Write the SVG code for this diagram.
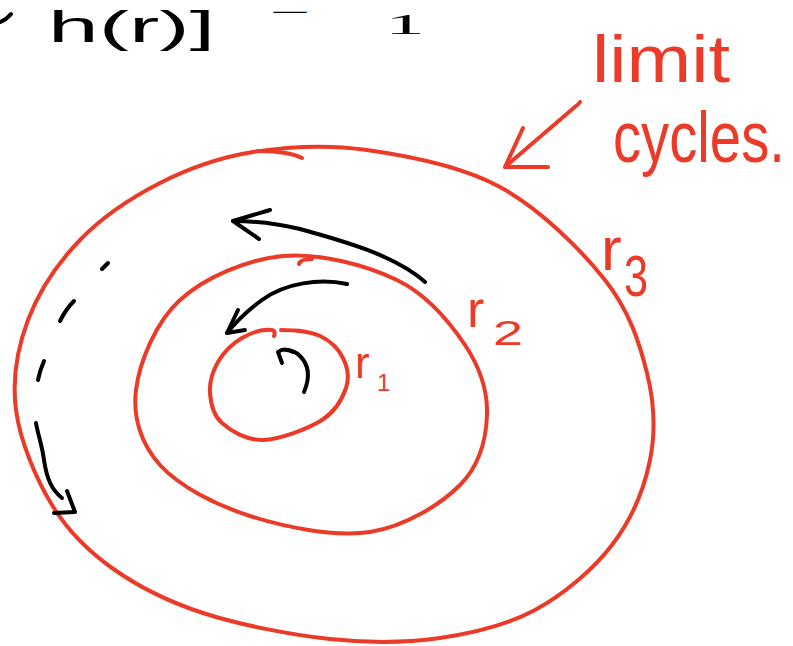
<svg xmlns="http://www.w3.org/2000/svg" width="793" height="646" viewBox="0 0 793 646">
<style>
.red{fill:none;stroke:#ec3a28;stroke-width:4;stroke-linecap:round;stroke-linejoin:round}
.blk{fill:none;stroke:#000;stroke-width:4;stroke-linecap:round;stroke-linejoin:round}
.rt{fill:#ec3a28;font-family:"Liberation Sans",Arial,sans-serif}
.bt{fill:#000;font-family:"Liberation Sans",Arial,sans-serif}
</style>
<rect width="793" height="646" fill="#fff"/>
<g id="formula">
<path class="blk" d="M0 22 Q6 20 11 14"/>
<text class="bt" x="48" y="42" font-size="44" textLength="167" lengthAdjust="spacingAndGlyphs">h(r)]</text>
<text class="bt" x="270" y="19" font-size="20" textLength="40" lengthAdjust="spacingAndGlyphs">−</text>
<text class="bt" x="385" y="34" font-size="30" textLength="40" lengthAdjust="spacingAndGlyphs" style="font-family:'Liberation Serif',serif">1</text>
</g>
<g id="cycle-r3">
<path class="red" d="M253 152 C287.5 146.5 325.8 144.2 367 150 C408.2 155.8 460.3 165.3 500 187 C539.7 208.7 580.5 249 605 280 C629.5 311 639.5 343 647 373 C654.5 403 655.8 431.3 650 460 C644.2 488.7 631.2 520 612 545 C592.8 570 563.7 594.5 535 610 C506.3 625.5 474.2 633.2 440 638 C405.8 642.8 369.5 643.2 330 639 C290.5 634.8 239.3 624.8 203 613 C166.7 601.2 137.2 586 112 568 C86.8 550 68 531.3 52 505 C36 478.7 20 440.8 16 410 C12 379.2 17.3 348.3 28 320 C38.7 291.7 58 262.8 80 240 C102 217.2 131.2 197.7 160 183 C188.8 168.3 218.5 157.5 253 152"/>
<path class="red" d="M258 151 C272 151 290 152 302 158"/>
<text class="rt" x="601" y="270" font-size="62">r</text>
<text class="rt" x="624" y="296" font-size="58" textLength="24" lengthAdjust="spacingAndGlyphs">3</text>
</g>
<g id="cycle-r2">
<path class="red" d="M283 256 C319.2 252.7 366.7 265.2 397 280 C427.3 294.8 450 322.5 465 345 C480 367.5 487.8 391.7 487 415 C486.2 438.3 479.5 465.5 460 485 C440.5 504.5 405 526.8 370 532 C335 537.2 285 527.2 250 516 C215 504.8 179 486 160 465 C141 444 132.7 417.5 136 390 C139.3 362.5 155.5 322.3 180 300 C204.5 277.7 246.8 259.3 283 256"/>
<path class="red" d="M299 264 Q300 259 312 259"/>
<text class="rt" x="467" y="327" font-size="52">r</text>
<text class="rt" x="493" y="345" font-size="35" textLength="30" lengthAdjust="spacingAndGlyphs">2</text>
</g>
<g id="cycle-r1">
<path class="red" d="M281 330 C295 330 309.7 331.3 320 336 C330.3 340.7 338.7 349.3 343 358 C347.3 366.7 349.5 377.7 346 388 C342.5 398.3 335.8 411.3 322 420 C308.2 428.7 279.7 439.5 263 440 C246.3 440.5 230.8 430.8 222 423 C213.2 415.2 210.7 403.2 210 393 C209.3 382.8 212.7 371.2 218 362 C223.3 352.8 233 343.3 242 338 C251 332.7 262 329 272 330 Q276 331 274 336"/>
<text class="rt" x="355" y="378" font-size="44">r</text>
<text class="rt" x="377" y="391" font-size="24">1</text>
</g>
<g id="label-limit-cycles">
<text class="rt" x="592" y="82" font-size="66" textLength="138" lengthAdjust="spacingAndGlyphs">limit</text>
<text class="rt" transform="translate(613,162) scale(0.97,1.25)" font-size="58">cycles.</text>
</g>
<g id="connectors">
<path class="red" d="M580 102 Q578 105 576 106 L505 167"/>
<path class="red" d="M523 128 L505 167 L548 167"/>
<path class="blk" d="M425 282 C395 255 340 240 300 229 C275 223 255 221 233 221"/>
<path class="blk" d="M270 210 L233 221 L259 239"/>
<path class="blk" d="M347 284 C320 278 285 283 262 300 C248 310 236 322 227 333"/>
<path class="blk" d="M238 310 L227 333 L245 330"/>
<path class="blk" d="M304 392 C310 378 309 365 300 356 C295 351 290 350 286 350"/>
<path class="blk" d="M282 363 L278 352 Q284 347 293 352"/>
<path class="blk" d="M102 269 L108 263"/>
<path class="blk" d="M60 321 Q66 309 74 301"/>
<path class="blk" d="M38 380 Q40 370 44 361"/>
<path class="blk" d="M36 423 C38 435 42 445 44 460 C47 480 52 490 62 498"/>
<path class="blk" d="M67 491 L75 512 L54 513"/>
</g>
</svg>
